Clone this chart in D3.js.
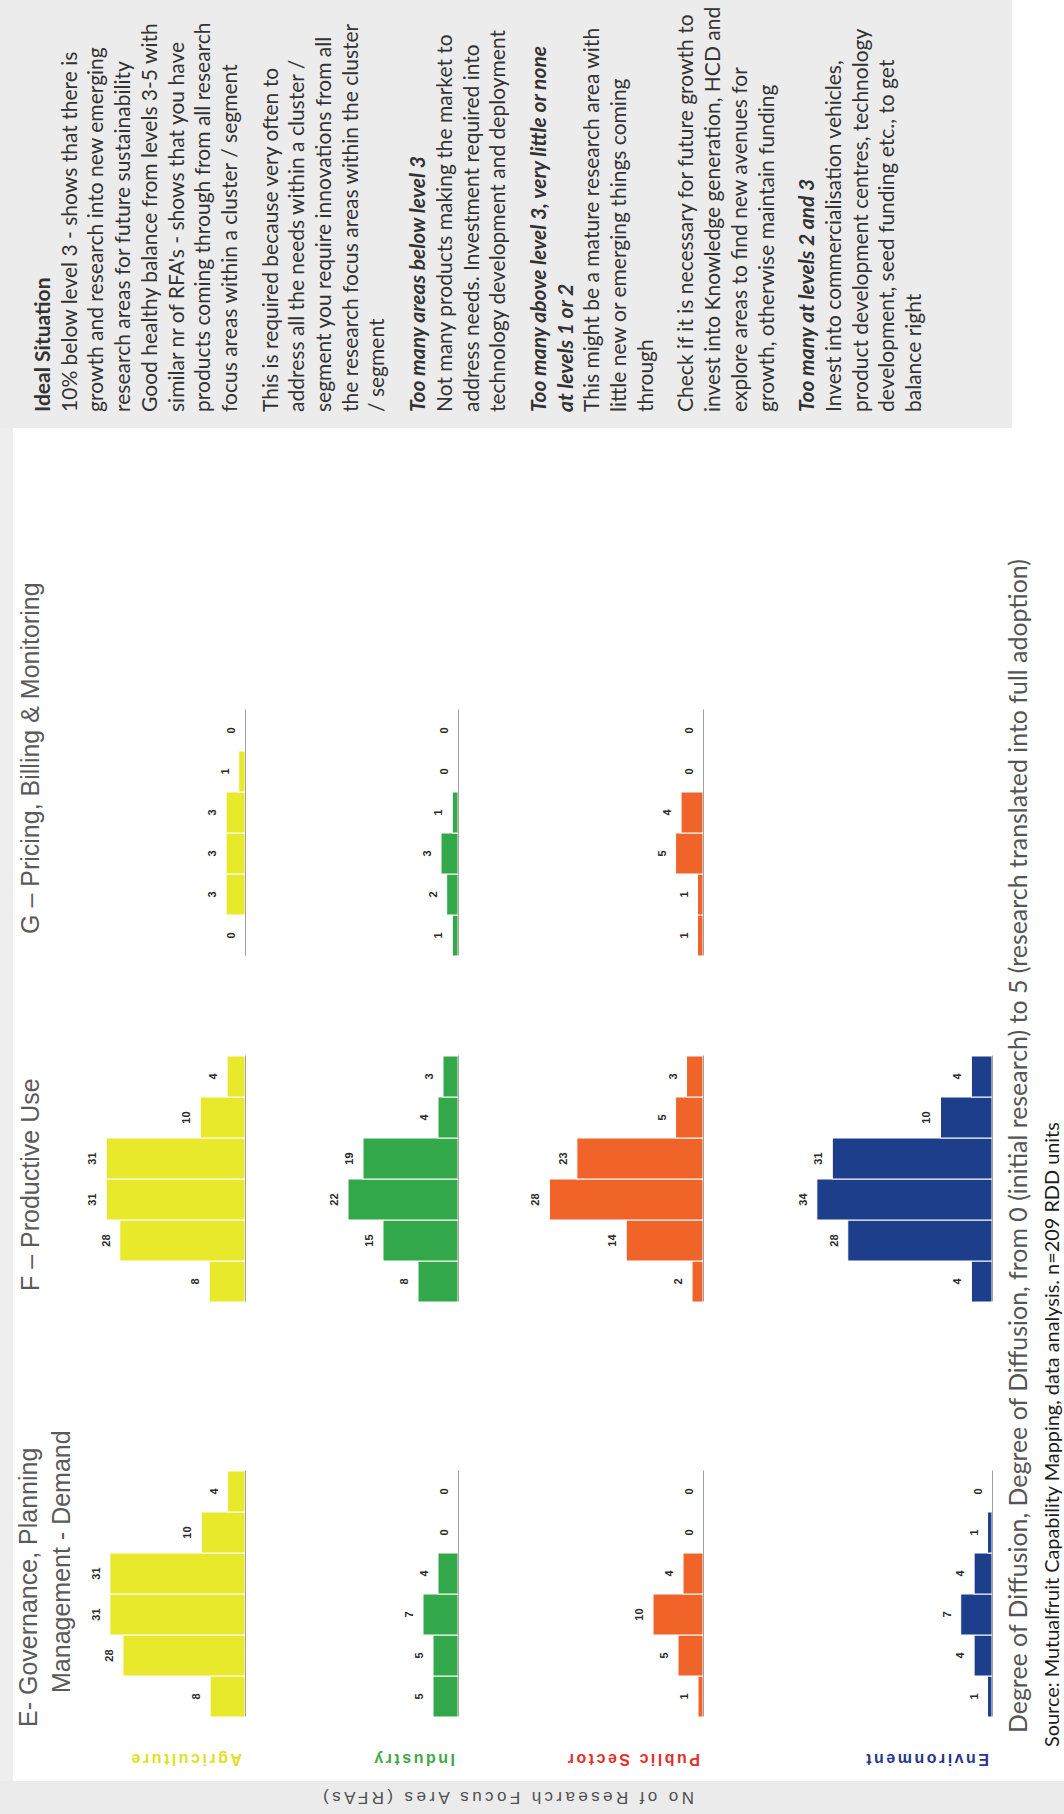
<!DOCTYPE html>
<html><head><meta charset="utf-8">
<script src="https://cdn.jsdelivr.net/npm/d3@7"></script>
<style>html,body{margin:0;padding:0;background:#fff;} svg{display:block;}</style>
</head><body>
<script>
// ---------------- data ----------------
const levels = [0, 1, 2, 3, 4, 5];
const sectors = ["Agriculture", "Industry", "Public Sector", "Environment"];
const clusterTitles = [["E- Governance, Planning", "Management - Demand"], ["F \u2013 Productive Use"], ["G \u2013 Pricing, Billing & Monitoring"]];
const eValues = [[8, 28, 31, 31, 10, 4], [5, 5, 7, 4, 0, 0], [1, 5, 10, 4, 0, 0], [1, 4, 7, 4, 1, 0]];
const fValues = [[8, 28, 31, 31, 10, 4], [8, 15, 22, 19, 4, 3], [2, 14, 28, 23, 5, 3], [4, 28, 34, 31, 10, 4]];
const gValues = [[0, 3, 3, 3, 1, 0], [1, 2, 3, 1, 0, 0], [1, 1, 5, 4, 0, 0]];
const eAxisMax = [39, 34, 34, 38];
const fAxisMax = [38, 34, 31, 33];
const gAxisMax = [27, 30, 31];
const yAxisTitle = "No of Research Focus Ares (RFAs)";
const xAxisTitle = "Degree of Diffusion, Degree of Diffusion, from  0 (initial research) to 5 (research translated into full adoption)";
const sourceNote = "Source: Mutualfruit Capability Mapping, data analysis. n=209 RDD units";
const noteLines = [
  ["Ideal Situation", "b"],
  ["10% below level 3 - shows that there is", ""],
  ["growth and research into new emerging", ""],
  ["research areas for future sustainability", ""],
  ["Good healthy balance from levels 3-5 with", ""],
  ["similar nr of RFA's - shows that you have", ""],
  ["products coming through from all research", ""],
  ["focus areas within a cluster / segment", ""],
  null,
  ["This is required because very often to", ""],
  ["address all the needs within a cluster /", ""],
  ["segment you require innovations from all", ""],
  ["the research focus areas within the cluster", ""],
  ["/ segment", ""],
  null,
  ["Too many areas below level 3", "bi"],
  ["Not many products making the market to", ""],
  ["address needs. Investment required into", ""],
  ["technology development and deployment", ""],
  null,
  ["Too many above level 3, very little or none", "bi"],
  ["at levels 1 or 2", "bi"],
  ["This might be a mature research area with", ""],
  ["little new or emerging things coming", ""],
  ["through", ""],
  null,
  ["Check if it is necessary for future growth to", ""],
  ["invest into Knowledge generation, HCD and", ""],
  ["explore areas to find new avenues for", ""],
  ["growth, otherwise maintain funding", ""],
  null,
  ["Too many at levels 2 and 3", "bi"],
  ["Invest into commercialisation vehicles,", ""],
  ["product development centres, technology", ""],
  ["development, seed funding etc., to get", ""],
  ["balance right", ""]
];

// ---------------- layout / style ----------------
const W = 1064, H = 1814;           // screen
const barColors = ["#e9e92c", "#33a84a", "#f0642a", "#1d3f8b"];
const labelColors = ["#e3df1c", "#45a845", "#e2302a", "#29378c"];
const colStart = [97, 512, 858];     // logical x of level 0 band start
const bandW = 41;
const rowBase = [245, 458, 703, 992];// logical y of baselines
const plotH = 170;

const svg = d3.select("body").append("svg").attr("width", W).attr("height", H);
svg.append("rect").attr("width", W).attr("height", H).attr("fill", "#ffffff");
// the page is laid out rotated by -90 degrees
const root = svg.append("g").attr("transform", `translate(0,${H}) rotate(-90)`);
const LW = H, LH = W;

// background regions
root.append("rect").attr("x", 0).attr("y", 0).attr("width", LW).attr("height", 13).attr("fill", "#eeeeee");
root.append("rect").attr("x", 0).attr("y", 0).attr("width", 33).attr("height", LH).attr("fill", "#ebebeb");
root.append("rect").attr("x", 1386).attr("y", 0).attr("width", LW - 1386).attr("height", 1012).attr("fill", "#ececec");

const allValues = [eValues, fValues, gValues];
const allMax = [eAxisMax, fAxisMax, gAxisMax];

allValues.forEach((colVals, c) => {
  const x = d3.scaleBand().domain(levels).range([colStart[c], colStart[c] + bandW * levels.length]).padding(0);
  colVals.forEach((vals, r) => {
    const y = d3.scaleLinear().domain([0, allMax[c][r]]).range([rowBase[r], rowBase[r] - plotH]);
    const g = root.append("g");
    g.selectAll("rect.bar").data(vals).join("rect")
      .attr("class", "bar")
      .attr("x", (d, i) => x(levels[i]))
      .attr("y", d => y(d))
      .attr("width", x.bandwidth())
      .attr("height", d => y(0) - y(d))
      .attr("fill", barColors[r])
      .attr("stroke", "#ffffff").attr("stroke-width", 1);
    const ax = g.append("g").attr("transform", `translate(0,${y(0)})`)
      .call(d3.axisBottom(x).tickSize(0).tickFormat(""));
    ax.select(".domain").attr("stroke", "#a0a0a0").attr("stroke-width", 1);
    g.selectAll("text.val").data(vals).join("text")
      .attr("class", "val")
      .attr("x", (d, i) => x(levels[i]) + x.bandwidth() / 2)
      .attr("y", d => y(d) - 10)
      .attr("text-anchor", "middle")
      .attr("font-family", "Liberation Sans, Arial, sans-serif")
      .attr("font-weight", "bold")
      .attr("font-size", 11)
      .attr("fill", "#2a2a2a")
      .text(d => d);
  });
});

// cluster titles
const titleFont = "Liberation Sans, Arial, sans-serif";
const titlePos = [[[87, 37], [121, 70]], [[523, 39]], [[880, 39]]];
clusterTitles.forEach((lines, c) => {
  lines.forEach((t, i) => {
    root.append("text")
      .attr("x", titlePos[c][i][0]).attr("y", titlePos[c][i][1])
      .attr("font-family", titleFont).attr("font-size", 25)
      .attr("fill", "#5a5a5a").text(t);
  });
});

// sector labels (vertical)
sectors.forEach((s, r) => {
  root.append("text")
    .attr("transform", `translate(60,${rowBase[r] - 3}) rotate(-90)`)
    .attr("font-family", titleFont).attr("font-weight", "bold")
    .attr("font-size", 16).attr("letter-spacing", 2.5)
    .attr("fill", labelColors[r]).text(s);
});

// y axis title
root.append("text")
  .attr("transform", `translate(22,694) rotate(-90)`)
  .attr("font-family", titleFont).attr("font-size", 17).attr("letter-spacing", 3.4)
  .attr("fill", "#505050").text(yAxisTitle);

// x axis title and source
function fitText(sel, target) {
  const len = sel.node().getComputedTextLength();
  const fs = +sel.attr("font-size");
  sel.attr("font-size", fs * target / len);
}
const xt = root.append("text").attr("x", 81).attr("y", 1027)
  .attr("font-family", "Lato, sans-serif").attr("font-size", 21)
  .attr("fill", "#555555").text(xAxisTitle);
fitText(xt, 1175);
const st = root.append("text").attr("x", 67).attr("y", 1059)
  .attr("font-family", "Lato, sans-serif").attr("font-size", 19)
  .attr("fill", "#1e1e1e").text(sourceNote);
fitText(st, 625);

// notes panel
const probe = root.append("text").attr("font-family", "Lato, sans-serif").attr("font-size", 20).text(noteLines[2][0]);
const noteFs = 20 * 365 / probe.node().getComputedTextLength();
probe.remove();
let vpos = 50;
noteLines.forEach(l => {
  if (l === null) { vpos += 14; return; }
  root.append("text")
    .attr("x", 1402).attr("y", vpos)
    .attr("font-family", "Lato, sans-serif").attr("font-size", noteFs)
    .attr("font-weight", l[1].includes("b") ? "bold" : "normal")
    .attr("font-style", l[1].includes("i") ? "italic" : "normal")
    .attr("fill", "#333333").text(l[0]);
  vpos += 26.7;
});
</script>
</body></html>
